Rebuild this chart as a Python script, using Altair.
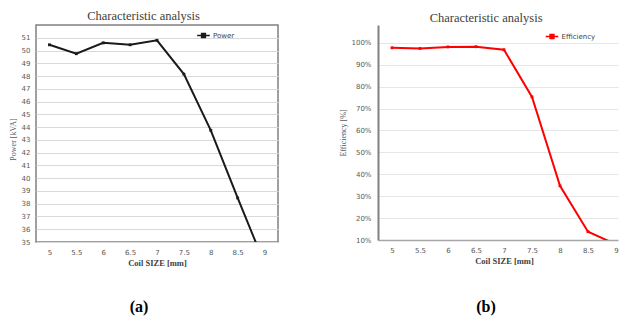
import altair as alt
import pandas as pd

coil = ["5", "5.5", "6", "6.5", "7", "7.5", "8", "8.5", "9"]
power = [50.45, 49.75, 50.6, 50.45, 50.8, 48.15, 43.75, 38.45, 33.3]
efficiency = [0.977, 0.974, 0.981, 0.982, 0.968, 0.753, 0.347, 0.138, 0.080]
power_ticks = list(range(35, 52))
eff_ticks = [0.1, 0.2, 0.3, 0.4, 0.5, 0.6, 0.7, 0.8, 0.9, 1.0]
panel_labels = ["(a)", "(b)"]

SERIF = "Liberation Serif"
SANS = "DejaVu Sans"
SYMBOL = "M-1,0H1M-0.3,-0.3H0.3V0.3H-0.3Z"

df_p = pd.DataFrame({"coil": coil, "value": power, "series": "Power"})
df_e = pd.DataFrame({"coil": coil, "value": efficiency, "series": "Efficiency"})


def x_enc(scale, title_x=None, domain=False):
    extra = {"titleX": title_x} if title_x is not None else {}
    return alt.X(
        "coil:O", sort=coil, scale=scale,
        axis=alt.Axis(
            title="Coil SIZE [mm]", titleFont=SERIF, titleFontSize=8.5, titleFontWeight="bold",
            titleColor="#404040", titlePadding=3, labelAngle=0, labelFont=SANS, labelFontSize=7,
            labelColor="#595959", labelPadding=6, ticks=False, domain=domain,
            domainColor="#a6a6a6", domainWidth=1.5, grid=False, **extra,
        ),
    )


def title(offset, dx):
    return alt.TitleParams(
        "Characteristic analysis", font=SERIF, fontSize=12.5, fontWeight="normal",
        color="#404040", offset=offset, anchor="middle", frame="bounds", dx=dx,
    )


def legend(x, y, color):
    return alt.Legend(
        title=None, orient="none", legendX=x, legendY=y, symbolType=SYMBOL, symbolSize=160,
        symbolStrokeWidth=1.5, symbolFillColor=color, labelFont=SANS, labelFontSize=7,
        labelColor="#404040", labelOffset=2, padding=0,
    )


# ---- panel (a)
line_p = alt.Chart(df_p).mark_line(
    clip=True, strokeWidth=2,
    point=alt.OverlayMarkDef(shape="square", size=8, filled=True, color="#1a1a1a"),
).encode(
    x=x_enc(alt.Scale(type="point", padding=0.5)),
    y=alt.Y(
        "value:Q", scale=alt.Scale(domain=[35, 52], nice=False, zero=False),
        axis=alt.Axis(
            values=power_ticks, title="Power [kVA]", titleFont=SERIF, titleFontSize=8,
            titleFontWeight="normal", titleColor="#595959", titlePadding=4, titleY=114,
            labelFont=SANS, labelFontSize=7, labelColor="#595959", labelPadding=6, ticks=False,
            domain=False, gridColor="#d9d9d9", gridWidth=1,
        ),
    ),
    color=alt.Color("series:N", scale=alt.Scale(domain=["Power"], range=["#1a1a1a"]),
                    legend=legend(160, 3, "#1a1a1a")),
)
lab_a = alt.Chart(pd.DataFrame({"t": [panel_labels[0]]})).mark_text(
    font=SERIF, fontSize=16, fontWeight="bold", color="#000000"
).encode(text="t:N", x=alt.value(103), y=alt.value(282))

left = alt.layer(line_p, lab_a).properties(
    width=242, height=217, title=title(3, 0),
    view=alt.ViewBackground(stroke="#808080", strokeWidth=1.5),
)

# ---- panel (b)
x_scale_b = alt.Scale(type="point", padding=0.2857, align=0.875)
line_e = alt.Chart(df_e).mark_line(
    clip=True, strokeWidth=2,
    point=alt.OverlayMarkDef(shape="square", size=8, filled=True, color="#ff0000"),
).encode(
    x=x_enc(x_scale_b, 126, True),
    y=alt.Y(
        "value:Q", scale=alt.Scale(domain=[0.1, 1.081], nice=False, zero=False),
        axis=alt.Axis(
            values=eff_ticks, format=".0%", title="Efficiency [%]", titleFont=SERIF,
            titleFontSize=8, titleFontWeight="normal", titleColor="#595959", titlePadding=3,
            labelFont=SANS, labelFontSize=7, labelColor="#595959", labelPadding=7, ticks=False,
            domain=True, domainColor="#808080", domainWidth=2, gridColor="#e6e6e6", gridWidth=1,
        ),
    ),
    color=alt.Color("series:N", scale=alt.Scale(domain=["Efficiency"], range=["#ff0000"]),
                    legend=legend(166.5, 4, "#ff0000")),
)
lab_b = alt.Chart(pd.DataFrame({"t": [panel_labels[1]]})).mark_text(
    font=SERIF, fontSize=16, fontWeight="bold", color="#000000"
).encode(text="t:N", x=alt.value(108), y=alt.value(282))

right = alt.layer(line_e, lab_b).properties(
    width=240, height=215, title=title(1, 7),
    view=alt.ViewBackground(stroke="transparent"),
)

chart = alt.hconcat(left, right, spacing=60).properties(padding=0).resolve_scale(
    color="independent"
).resolve_legend(color="independent")

chart.save("out.html", embed_options={"renderer": "svg", "actions": False})
